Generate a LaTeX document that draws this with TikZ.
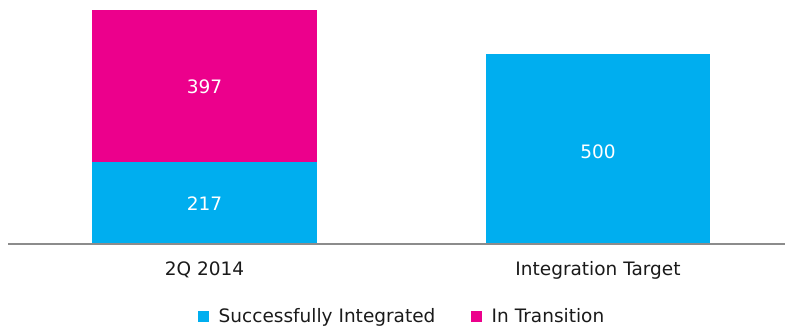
\documentclass[tikz,border=0pt]{standalone}
\usepackage{fontspec}
\setmainfont{DejaVu Sans}
\usepackage{tikz}
\usetikzlibrary{positioning}

\definecolor{barblue}{HTML}{00AEEF}
\definecolor{barpink}{HTML}{EC008C}
\definecolor{axisgray}{HTML}{8C8C8C}
\definecolor{textgray}{HTML}{1A1A1A}

\tikzset{
  bartext/.style={text=white, font=\fontsize{18.5}{22}\selectfont},
  cattext/.style={text=textgray, font=\fontsize{18.5}{22}\selectfont,
    text height=0.75em, text depth=0.25em},
  keybox/.style={minimum size=11pt, inner sep=0pt}
}

\begin{document}
\begin{tikzpicture}[x=1pt, y=-1pt]
\useasboundingbox (0,0) rectangle (786,328);

\coordinate (a1) at (92,243);
\coordinate (a2) at (317,162);
\coordinate (a3) at (92,10);
\coordinate (b1) at (486,243);
\coordinate (b2) at (710,54);

% bars
\fill[barblue] (a1) rectangle (a2);
\fill[barpink] (a2 -| a1) rectangle (a3 -| a2);
\fill[barblue] (b1) rectangle (b2);

\node[bartext] (v217) at (204.5,204) {217};
\node[bartext] (v397) at (204.5,87) {397};
\node[bartext] (v500) at (598,152) {500};

% axis
\draw[axisgray, line width=2pt] (8,244) -- (785,244);

\node[cattext] (c1) at (204.5,273.5) {2Q 2014};
\node[cattext] (c2) at (598,273.5) {Integration Target};

% legend
\node[keybox, fill=barblue] (k1) at (203.5,316.5) {};
\node[cattext, right=6pt of k1, yshift=-3.5pt] (l1) {Successfully Integrated};
\node[keybox, fill=barpink] (k2) at (476.5,316.5) {};
\node[cattext, right=6pt of k2, yshift=-3.5pt] (l2) {In Transition};
\end{tikzpicture}
\end{document}
